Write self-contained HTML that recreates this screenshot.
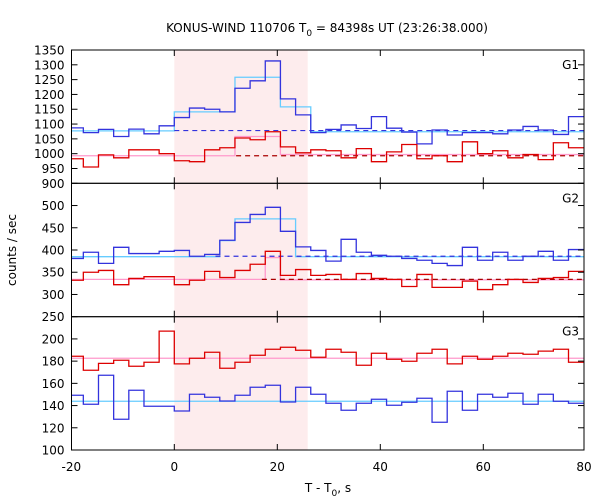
<!DOCTYPE html>
<html><head><meta charset="utf-8"><style>
body{margin:0;background:#fff}
svg{display:block;font-family:"DejaVu Sans","Liberation Sans",sans-serif}
</style></head><body>
<svg id="chart" width="600" height="500" xmlns="http://www.w3.org/2000/svg">
<rect width="600" height="500" fill="#fff"/>
<text x="327" y="32" text-anchor="middle" font-size="12">KONUS-WIND 110706 T<tspan dy="4" font-size="9">0</tspan><tspan dy="-4"> = 84398s UT (23:26:38.000)</tspan></text>
<text transform="translate(16,250) rotate(-90)" text-anchor="middle" font-size="12">counts / sec</text>
<text x="328" y="492" text-anchor="middle" font-size="12">T - T<tspan dy="4" font-size="9">0</tspan><tspan dy="-4">, s</tspan></text>
<g id="layer"></g>
</svg>
<script>
const binWidth = 2.944;
const firstBinIndex = -7;
const xTicks = [-20, 0, 20, 40, 60, 80];
const shadeRange = [0, 25.9];

const g1Ticks = [1350,1300,1250,1200,1150,1100,1050,1000,950,900];
const g1Blue = [1087,1071,1082,1058,1083,1067,1094,1122,1154,1150,1141,1221,1246,1313,1185,1131,1071,1082,1097,1085,1125,1086,1073,1033,1080,1063,1071,1071,1067,1080,1092,1080,1065,1125];
const g1Red = [983,955,996,986,1013,1013,1000,976,973,1013,1020,1053,1047,1074,1023,1003,1013,1010,986,1017,973,1006,1031,983,993,973,1040,1000,1010,986,997,980,1037,1020];
const g1CyanT = [-20,0,11.78,20.6,26.5,80];
const g1CyanV = [1077,1141,1258,1158,1074];
const g1PinkT = [-20,11.78,20.6,80];
const g1PinkV = [993,1058,997];
const g1BlueBg = 1078;
const g1RedBg = 993;

const g2Ticks = [500,450,400,350,300,250];
const g2Blue = [381,395,370,406,392,392,397,399,386,390,422,462,480,496,442,407,399,375,424,395,388,386,381,377,370,365,406,377,395,377,386,397,377,401];
const g2Red = [332,350,354,322,336,340,340,322,332,352,338,354,368,397,343,356,343,345,334,347,336,334,318,345,316,316,330,311,322,334,327,336,338,352];
const g2CyanT = [-20,8.83,11.78,23.55,80];
const g2CyanV = [385,421,470,385];
const g2PinkT = [-20,17.66,20.6,80];
const g2PinkV = [334,383,333];
const g2BlueBg = 386;
const g2RedBg = 334;

const g3Ticks = [200,180,160,140,120,100];
const g3Blue = [149.3,141.2,167.3,127.7,153.8,139.4,139.4,135.1,150.2,147.5,144.1,149.3,156.5,158.3,143.2,156.5,150.2,142.1,135.8,142.1,145.7,140.3,143,146.6,125,152.9,135.8,150.2,147.5,151.1,141.2,150.2,143.9,142.1];
const g3Red = [184.4,171.8,178,180.8,175.4,179,207,177.5,182.6,188,173.6,179,185.3,190.7,192.5,189.8,183.5,190.7,188,176.3,187.1,181.7,179.9,187.1,190.7,177.5,184.4,181.7,184.4,187.1,186.2,189,190.7,179];
const g3CyanT = [-20,80];
const g3CyanV = [143.9];
const g3PinkT = [-20,80];
const g3PinkV = [182.6];

const NS = "http://www.w3.org/2000/svg";
const layer = document.getElementById('layer');
const L = 71.5, R = 584;
const xMin = -20, xMax = 80;
function xs(t){ return 174.3 + t*5.15; }
function mk(tag, attrs, parent){ const e = document.createElementNS(NS, tag); for (const k in attrs) e.setAttribute(k, attrs[k]); (parent||layer).appendChild(e); return e; }

const panels = [
  {name:'g1', label:'G1', top:50, bot:183.3, vmax:1350, vmin:900, ticks:g1Ticks, blue:g1Blue, red:g1Red, cT:g1CyanT, cV:g1CyanV, pT:g1PinkT, pV:g1PinkV, bBg:g1BlueBg, rBg:g1RedBg, bStart:0, rStart:12},
  {name:'g2', label:'G2', top:183.3, bot:316.7, vmax:550, vmin:250, ticks:g2Ticks, blue:g2Blue, red:g2Red, cT:g2CyanT, cV:g2CyanV, pT:g2PinkT, pV:g2PinkV, bBg:g2BlueBg, rBg:g2RedBg, bStart:8, rStart:17},
  {name:'g3', label:'G3', top:316.7, bot:450, vmax:220, vmin:100, ticks:g3Ticks, blue:g3Blue, red:g3Red, cT:g3CyanT, cV:g3CyanV, pT:g3PinkT, pV:g3PinkV, bBg:null, rBg:null}
];

const shade = mk('rect', {x:xs(shadeRange[0]), y:50, width:xs(shadeRange[1])-xs(shadeRange[0]), height:400, fill:'#fdeced'});



function clampX(t){ return Math.max(L, Math.min(R, xs(t))); }
function histPath(vals, ys){
  let d = '';
  vals.forEach((v,i)=>{
    const t0 = (firstBinIndex+i)*binWidth, t1 = t0+binWidth;
    const x0 = clampX(t0), x1 = clampX(t1), y = ys(v);
    d += (i===0 ? 'M'+x0+','+y : 'V'+y+'H'+x0) ;
    d += 'H'+x1;
  });
  return d;
}
function stepPath(T, V, ys){
  let d = '';
  V.forEach((v,i)=>{
    const x0 = clampX(T[i]), x1 = clampX(T[i+1]), y = ys(v);
    d += (i===0 ? 'M'+x0+','+y : 'V'+y) + 'H'+x1;
  });
  return d;
}

panels.forEach(p=>{
  const ys = v => p.top + (p.vmax - v)*(p.bot-p.top)/(p.vmax-p.vmin);
  const g = mk('g', {});
  
  
  // models
  const cy = mk('path', {d:stepPath(p.cT, p.cV, ys), fill:'none', stroke:'#66ccff', 'stroke-width':1.3}, g);
  
  
  const pk = mk('path', {d:stepPath(p.pT, p.pV, ys), fill:'none', stroke:'#ff99cc', 'stroke-width':1.3}, g);
  
  
  if (p.bBg !== null){
    const bd = mk('line', {x1:xs(p.bStart), x2:R, y1:ys(p.bBg), y2:ys(p.bBg), stroke:'#3333dd', 'stroke-width':1.2, 'stroke-dasharray':'5,4'}, g);
    
    
    const rd = mk('line', {x1:xs(p.rStart), x2:R, y1:ys(p.rBg), y2:ys(p.rBg), stroke:'#aa0000', 'stroke-width':1.2, 'stroke-dasharray':'5,4'}, g);
    
    
  }
  const bl = mk('path', {d:histPath(p.blue, ys), fill:'none', stroke:'#3333dd', 'stroke-width':1.3}, g);
  
  
  const rd2 = mk('path', {d:histPath(p.red, ys), fill:'none', stroke:'#dd0000', 'stroke-width':1.3}, g);
  
  
  // frame
  const fr = mk('rect', {x:L, y:p.top, width:R-L, height:p.bot-p.top, fill:'none', stroke:'#000', 'stroke-width':1}, g);
  
  
  // y ticks
  p.ticks.forEach(v=>{
    const y = ys(v);
    mk('line', {x1:L, x2:L+6, y1:y, y2:y, stroke:'#000'}, g);
    mk('line', {x1:R, x2:R-6, y1:y, y2:y, stroke:'#000'}, g);
    const tl = mk('text', {x:L-7, y:y+4.5, 'text-anchor':'end', 'font-size':12}, g);
    tl.textContent = v;
    
    
  });
  // x ticks
  xTicks.forEach(t=>{
    const x = xs(t);
    if (x > L+1 && x < R-1){
      mk('line', {x1:x, x2:x, y1:p.top, y2:p.top+6, stroke:'#000'}, g);
      mk('line', {x1:x, x2:x, y1:p.bot, y2:p.bot-6, stroke:'#000'}, g);
    }
  });
  const lab = mk('text', {x:R-5, y:p.top+19, 'text-anchor':'end', 'font-size':12}, g);
  lab.textContent = p.label;
  
  
});

xTicks.forEach(t=>{
  const tl = mk('text', {x:Math.min(xs(t), 584), y:471, 'text-anchor':'middle', 'font-size':12});
  tl.textContent = t;
  
  
});
</script>
</body></html>
